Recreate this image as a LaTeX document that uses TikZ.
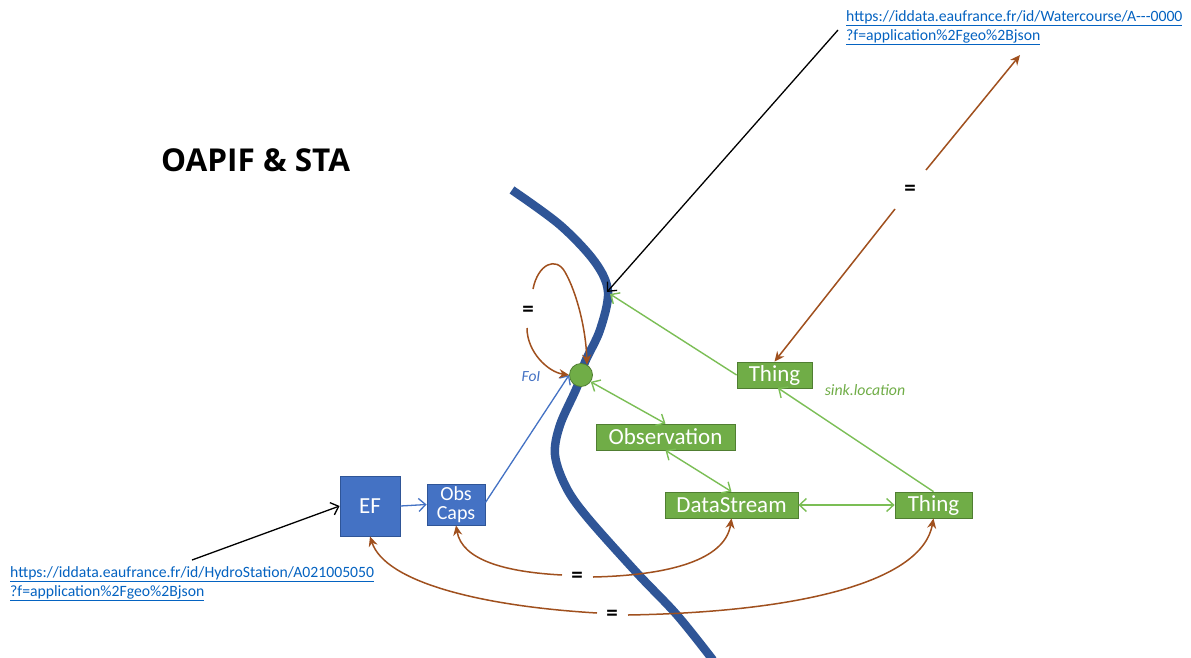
\documentclass[tikz,border=0pt]{standalone}
\usepackage{fontspec}
\setmainfont{Carlito}
\newfontfamily\titlefont{Open Sans}
\usetikzlibrary{arrows.meta}
\definecolor{river}{HTML}{2F5597}
\definecolor{gfill}{HTML}{70AD47}
\definecolor{gdraw}{HTML}{507E32}
\definecolor{bfill}{HTML}{4472C4}
\definecolor{bdraw}{HTML}{2F5597}
\definecolor{brn}{HTML}{A0501E}
\definecolor{lnk}{HTML}{0563C1}
\definecolor{gline}{HTML}{7BBE55}
\tikzset{
  gbox/.style={draw=gdraw, fill=gfill, text=white, font=\fontsize{23}{25}\selectfont, inner sep=0pt, minimum height=26pt, line width=0.8pt},
  bbox/.style={draw=bdraw, fill=bfill, text=white, inner sep=0pt, line width=0.8pt},
  brnline/.style={draw=brn, line width=1.5pt, -{Stealth[length=10pt,width=9pt]}},
  gconn/.style={draw=gline, line width=1.4pt, >={Straight Barb[length=7pt,width=13pt]}},
  blkline/.style={draw=black, line width=1.3pt, -{Straight Barb[length=7pt,width=13pt]}},
  bluline/.style={draw=bfill, line width=1.3pt, -{Straight Barb[length=7pt,width=13pt]}},
  eqlab/.style={font=\bfseries\fontsize{23}{25}\selectfont, inner sep=0pt},
  urltext/.style={text=lnk, font=\fontsize{15.7}{19}\selectfont, align=left, inner sep=0pt, anchor=north west},
}
\begin{document}
\begin{tikzpicture}[x=1pt,y=-1pt]
\useasboundingbox (0,0) rectangle (1191,657);
\fill[white] (0,0) rectangle (1191,657);

% title
\node[anchor=west, inner sep=0pt, font=\titlefont\bfseries\fontsize{31.5}{36}\selectfont] (title) at (161,160) {OAPIF \& STA};

% river
\draw[river, line width=8.5pt, line cap=butt] plot[smooth, tension=0.55] coordinates {(512,190) (560,225) (595,262) (608,292) (600,330) (585,362) (577,387) (560,425) (555,455) (566,487) (587,517) (637,573) (677,615) (713,660)};

% nodes
\node[gbox, minimum width=75pt] (thing1) at (774.5,375) {Thing};
\node[gbox, minimum width=139pt] (obs) at (665.5,437) {Observation};
\node[gbox, minimum width=133pt] (ds) at (731.5,505) {DataStream};
\node[gbox, minimum width=77pt] (thing2) at (933.5,505) {Thing};
\node[bbox, minimum width=60pt, minimum height=60pt, font=\fontsize{23}{25}\selectfont] (ef) at (370,506) {EF};
\node[bbox, minimum width=58pt, minimum height=41pt, align=center, font=\fontsize{20}{19}\selectfont] (oc) at (456,504.5) {Obs\\Caps};
\node[circle, draw=gdraw, fill=gfill, minimum size=23pt, inner sep=0pt, line width=0.8pt] (foi) at (581,375) {};

% labels
\node[text=bfill, font=\itshape\fontsize{15.5}{17}\selectfont, inner sep=0pt] (foilab) at (531,377) {FoI};
\node[text=gfill, font=\itshape\fontsize{15.8}{18}\selectfont, inner sep=0pt] (sink) at (865,390) {sink.location};
\node[eqlab] (eq1) at (528,311) {=};
\node[eqlab] (eq2) at (577,577) {=};
\node[eqlab] (eq3) at (612,615) {=};
\node[eqlab] (eq4) at (910,190) {=};

% urls
\node[urltext] (url1) at (10,566) {\underline{https://iddata.eaufrance.fr/id/HydroStation/A021005050}\\\underline{?f=application\%2Fgeo\%2Bjson}};
\node[urltext] (url2) at (846,10) {\underline{https://iddata.eaufrance.fr/id/Watercourse/A-{}-{}-0000}\\\underline{?f=application\%2Fgeo\%2Bjson}};

\coordinate (rivtop) at (607,292);
\coordinate (rivtop2) at (610,294);
\coordinate (blkstart2) at (838,30);
\coordinate (blkstart1) at (192,560);
\coordinate (url2pt) at (1020,55);
\coordinate (thing1in) at (778,388);

% black arrows
\draw[blkline] (blkstart2) -- (rivtop);
\draw[blkline] (blkstart1) -- (ef.west);

% green connectors
\draw[gconn, ->] (thing1.west) -- (rivtop2);
\draw[gconn, <->] (foi.-35) -- (obs.north);
\draw[gconn, <->] (obs.south) -- (ds.north);
\draw[gconn, <->] (ds.east) -- (thing2.west);
\draw[gconn, ->] (thing2.north) -- (thing1in);

% blue connectors
\draw[bluline] (ef.east) -- (oc.west);
\draw[bluline] (oc.east) ++(0,-2) -- (foi.west);

% brown loop at FoI
\draw[brnline] (533,289) .. controls (538,264) and (556,256) .. (565,272) .. controls (577,293) and (586,330) .. (foi.60);
\draw[brnline] (527,328) .. controls (527,352) and (548,372) .. (foi.west);

% brown long arrows
\draw[brnline] (562,575) .. controls (505,572) and (462,560) .. (oc.south);
\draw[brnline] (593,577) .. controls (680,575) and (726,556) .. (ds.south);
\draw[brnline] (597,613) .. controls (480,606) and (385,582) .. (ef.south);
\draw[brnline] (628,615) .. controls (800,612) and (922,582) .. (thing2.south);
\draw[brnline] (926,170) -- (url2pt);
\draw[brnline] (895,209) -- (thing1.north);
\end{tikzpicture}
\end{document}
